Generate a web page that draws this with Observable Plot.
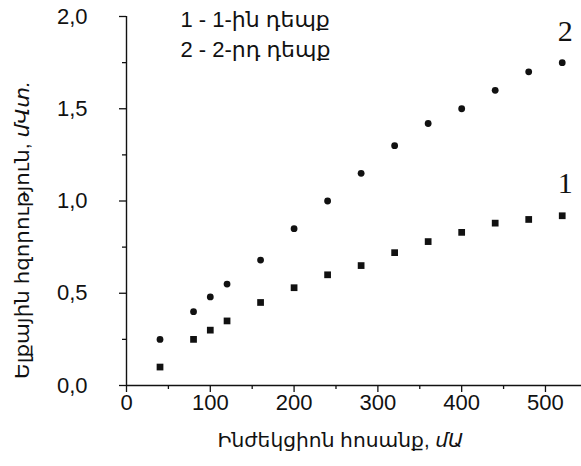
<!DOCTYPE html>
<html>
<head>
<meta charset="utf-8">
<script src="https://cdn.jsdelivr.net/npm/d3@7"></script>
<script src="https://cdn.jsdelivr.net/npm/@observablehq/plot@0.6"></script>
<style>
  html, body { margin: 0; padding: 0; background: #fff; }
</style>
</head>
<body>
<div id="chart"></div>
<script>
// Injection current, mA
const current = [40, 80, 100, 120, 160, 200, 240, 280, 320, 360, 400, 440, 480, 520];
// Case 1 (squares), output power, mW
const power1 = [0.10, 0.25, 0.30, 0.35, 0.45, 0.53, 0.60, 0.65, 0.72, 0.78, 0.83, 0.88, 0.90, 0.92];
// Case 2 (circles), output power, mW
const power2 = [0.25, 0.40, 0.48, 0.55, 0.68, 0.85, 1.00, 1.15, 1.30, 1.42, 1.50, 1.60, 1.70, 1.75];

const xMajorTicks = [0, 100, 200, 300, 400, 500];
const xMinorTicks = [50, 150, 250, 350, 450];
const yMajorTicks = [0, 0.5, 1.0, 1.5, 2.0];
const yMinorTicks = [0.25, 0.75, 1.25, 1.75];

const legendLines = ["1 - 1-ին դեպք", "2 - 2-րդ դեպք"];
const seriesLabels = [
  {label: "1", x: 520, y: 1.095},
  {label: "2", x: 520, y: 1.92}
];
const xLabelMain = "Ինժեկցիոն հոսանք, ";
const xLabelUnit = "մԱ";
const yLabelMain = "Ելքային հզորություն, ";
const yLabelUnit = "մՎտ.";

const data1 = current.map((c, i) => ({current: c, power: power1[i]}));
const data2 = current.map((c, i) => ({current: c, power: power2[i]}));

const fmt = d => d.toFixed(1).replace(".", ",");
const sans = "'Liberation Sans', Arial, 'DejaVu Sans', sans-serif";

const chart = Plot.plot({
  width: 581,
  height: 466,
  marginLeft: 126,
  marginRight: 0,
  marginTop: 16,
  marginBottom: 81,
  style: {fontFamily: sans, fontSize: "20px", color: "#111", background: "#fff"},
  x: {domain: [0, 543]},
  y: {domain: [0, 2]},
  marks: [
    Plot.axisX({ticks: xMajorTicks, tickSize: 7, tickPadding: 2, fontSize: 22, label: null, strokeWidth: 1.3}),
    Plot.axisX({ticks: xMinorTicks, tickSize: 4, tickFormat: () => "", label: null, strokeWidth: 1.3}),
    Plot.axisY({ticks: yMajorTicks, tickSize: 7, tickPadding: 32, tickFormat: fmt, fontSize: 22, label: null, strokeWidth: 1.3}),
    Plot.axisY({ticks: yMinorTicks, tickSize: 4, tickFormat: () => "", label: null, strokeWidth: 1.3}),
    Plot.ruleY([0], {stroke: "#111", strokeWidth: 1.4}),
    Plot.ruleX([0], {stroke: "#111", strokeWidth: 1.4}),
    Plot.dot(data1, {x: "current", y: "power", symbol: "square", r: 3.8, fill: "#111", stroke: null}),
    Plot.dot(data2, {x: "current", y: "power", symbol: "circle", r: 3.4, fill: "#111", stroke: null}),
    Plot.text(seriesLabels, {x: "x", y: "y", text: "label", dx: 3, fontSize: 30,
      fontFamily: "'Liberation Serif', 'DejaVu Serif', serif", fill: "#111"}),
    Plot.text([legendLines.join("\n")], {frameAnchor: "top-left", textAnchor: "start",
      lineAnchor: "middle", lineHeight: 1.35, dx: 54, dy: 16, fontSize: 22, fill: "#111"}),
    Plot.text([xLabelMain + xLabelUnit], {frameAnchor: "bottom", textAnchor: "middle", dx: 340 - 353.5, dy: 55,
      lineAnchor: "middle", fontSize: 20, fill: "#111"}),
    Plot.text([yLabelMain + yLabelUnit], {frameAnchor: "left", textAnchor: "middle", rotate: -90, dx: 22 - 126, dy: 29,
      lineAnchor: "middle", fontSize: 20, fill: "#111"})
  ]
});

// tick labels: make their size explicit
const tickTexts = new Set([...xMajorTicks.map(String), ...yMajorTicks.map(fmt)]);
d3.select(chart).selectAll("text")
  .filter(function() { return tickTexts.has(this.textContent); })
  .style("font-size", "22px");

// italic units, fitted to the reference label lengths
function italicize(svg, full, main, unit, len) {
  d3.select(svg).selectAll("text").filter(function() { return this.textContent === full; })
    .each(function() {
      const t = d3.select(this);
      t.text(null);
      t.attr("textLength", len).attr("lengthAdjust", "spacingAndGlyphs");
      t.append("tspan").text(main);
      t.append("tspan").attr("font-style", "italic").text(unit);
    });
}
italicize(chart, xLabelMain + xLabelUnit, xLabelMain, xLabelUnit, 246);
italicize(chart, yLabelMain + yLabelUnit, yLabelMain, yLabelUnit, 298);

document.getElementById("chart").appendChild(chart);
</script>
</body>
</html>
